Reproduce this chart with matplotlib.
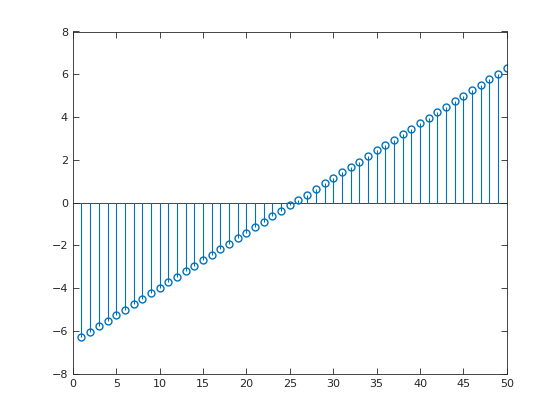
import matplotlib.pyplot as plt

x = list(range(1, 51))
y_neg = [-6.28, -6.03, -5.77, -5.51, -5.26, -5.00, -4.74, -4.49, -4.23, -3.98,
         -3.72, -3.46, -3.21, -2.95, -2.69, -2.44, -2.18, -1.92, -1.67, -1.41,
         -1.15, -0.90, -0.64, -0.38, -0.13]
y = y_neg + [-v for v in reversed(y_neg)]

fig = plt.figure(figsize=(5.6, 4.2), dpi=100)
ax = fig.add_axes([0.13, 0.11, 0.775, 0.815])

blue = '#0072BD'
ax.plot([0, 50], [0, 0], color='#262626', lw=0.6, zorder=1)
ml, sl, bl = ax.stem(x, y, basefmt=' ')
plt.setp(sl, color=blue, linewidth=0.8)
plt.setp(ml, color=blue, marker='o', markersize=5, markerfacecolor='none', markeredgewidth=1)

ax.set_xlim(0, 50)
ax.set_ylim(-8, 8)
ax.set_xticks(range(0, 51, 5))
ax.set_yticks(range(-8, 9, 2))
ax.tick_params(direction='in', top=True, right=True, labelsize=8, colors='#262626', length=4, width=0.6)
for s in ax.spines.values():
    s.set_color('#262626')
    s.set_linewidth(0.6)

plt.savefig('out.png')
